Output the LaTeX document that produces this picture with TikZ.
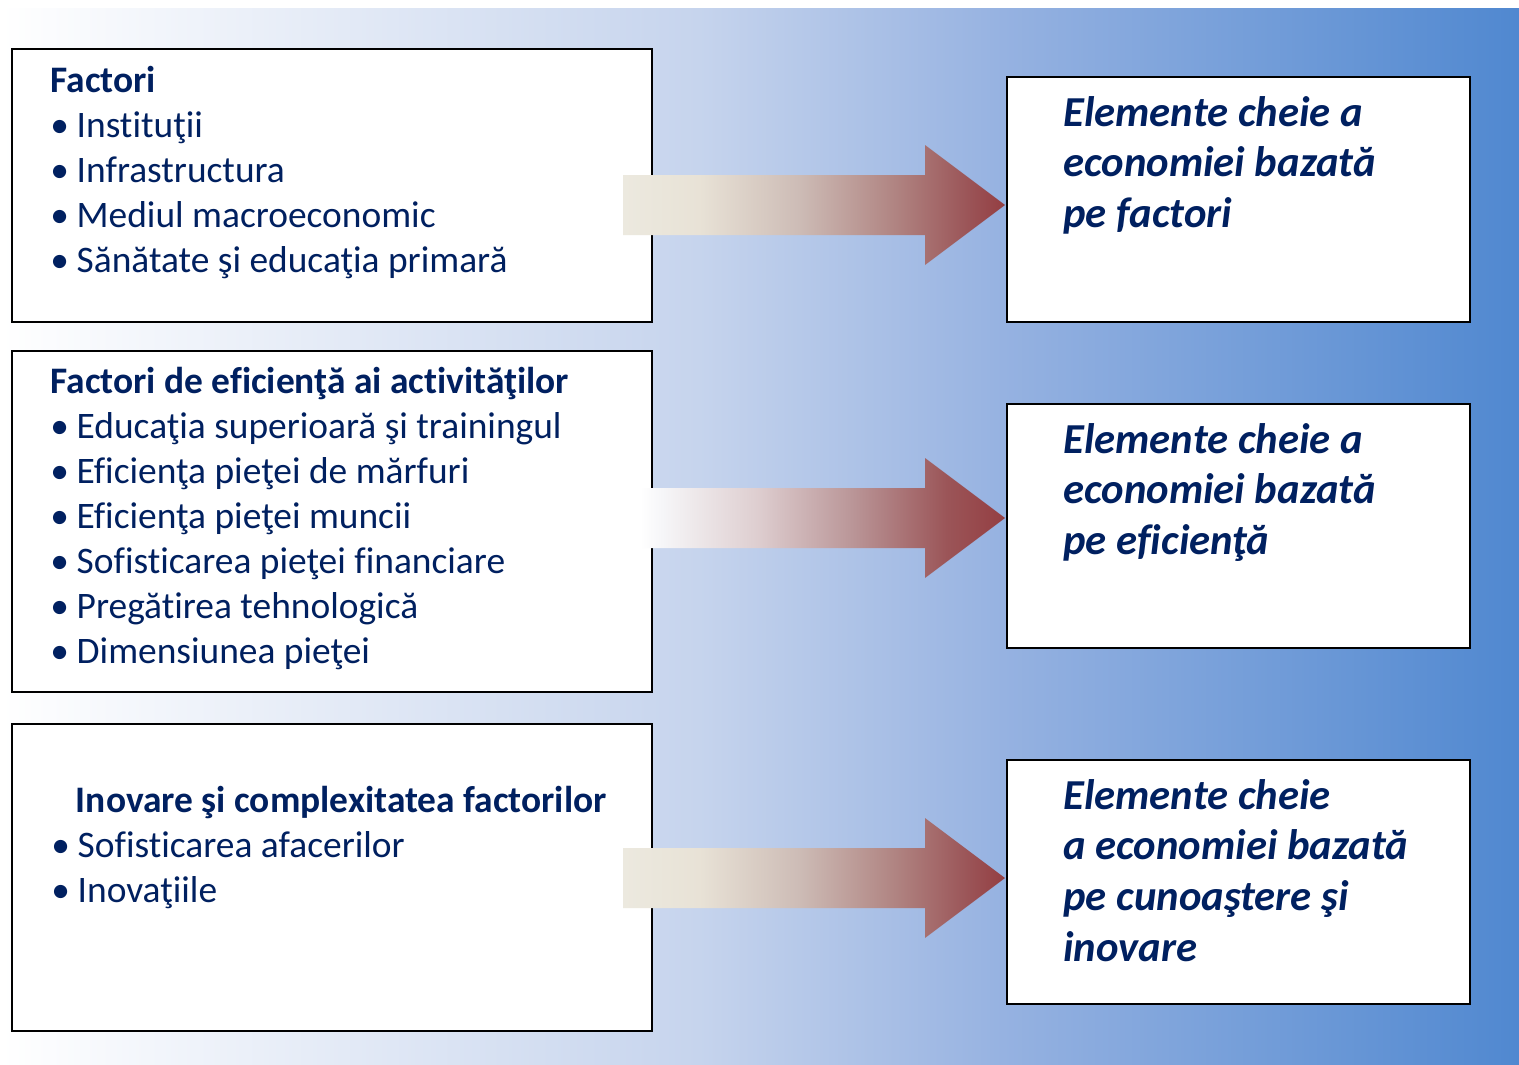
\documentclass[tikz,border=0pt]{standalone}
\usepackage{fontspec}
\setmainfont{Carlito}[Ligatures=NoCommon]
\usepackage{tikz}
\usetikzlibrary{calc}

\definecolor{navy}{RGB}{0,32,96}
\definecolor{bgmid}{RGB}{198,212,237}
\definecolor{bgblue}{RGB}{150,178,225}
\definecolor{bgright}{RGB}{80,136,208}
\definecolor{arrlight}{RGB}{236,233,223}
\definecolor{arrpale}{RGB}{232,226,214}
\definecolor{arrmid}{RGB}{205,188,182}
\definecolor{arrrose}{RGB}{175,130,128}
\definecolor{arrred}{RGB}{155,85,88}
\definecolor{arrdark}{RGB}{148,62,66}
\definecolor{arrwhite}{RGB}{246,246,248}
\definecolor{arrpink}{RGB}{222,206,208}
\definecolor{arrmauve}{RGB}{186,150,152}

\pgfdeclarehorizontalshading{bgfill}{100bp}{color(0bp)=(white); color(25bp)=(white); color(48bp)=(bgmid); color(58bp)=(bgblue); color(75bp)=(bgright); color(100bp)=(bgright)}
\pgfdeclarehorizontalshading{arrowfill}{100bp}{color(0bp)=(arrlight); color(25bp)=(arrlight); color(35bp)=(arrpale); color(48bp)=(arrmid); color(61bp)=(arrrose); color(70bp)=(arrred); color(75bp)=(arrdark); color(100bp)=(arrdark)}
\pgfdeclarehorizontalshading{arrowfade}{100bp}{color(0bp)=(white); color(25bp)=(white); color(28bp)=(arrwhite); color(41bp)=(arrpink); color(54bp)=(arrmauve); color(67bp)=(arrred); color(75bp)=(arrdark); color(100bp)=(arrdark)}

\newcommand\blt{\makebox[15pt][l]{•}}

\begin{document}
\begin{tikzpicture}[x=0.02cm,y=-0.02cm,
  box/.style={draw=black,line width=1.3pt,fill=white,inner sep=0pt,anchor=north west},
  txt/.style={text=navy,align=left,inner sep=0pt,anchor=north west,font=\fontsize{21.3}{25.6}\selectfont},
  keytxt/.style={txt,font=\fontsize{24.3}{29}\selectfont\bfseries\itshape}]
\useasboundingbox (0,0) rectangle (1519,1065);
\shade[shading=bgfill] (0,8) rectangle (1519,1065);

% left boxes
\node[box,minimum width=12.8cm,minimum height=5.46cm] (fac) at (11,48) {};
\node[box,minimum width=12.8cm,minimum height=6.82cm] (efi) at (11,350) {};
\node[box,minimum width=12.8cm,minimum height=6.14cm] (ino) at (11,723) {};

% right boxes
\node[box,minimum width=9.26cm,minimum height=4.9cm] (kfac) at (1006,76) {};
\node[box,minimum width=9.26cm,minimum height=4.88cm] (kefi) at (1006,403) {};
\node[box,minimum width=9.26cm,minimum height=4.88cm] (kino) at (1006,759) {};

% arrows
\coordinate (tip1) at (1005,205);
\coordinate (tip2) at (1005,518);
\coordinate (tip3) at (1005,878);
\shade[shading=arrowfill] (623,175) -- ++(302,0) -- ++(0,-30) -- (tip1) -- ++(-80,60) -- ++(0,-30) -- ++(-302,0) -- cycle;
\shade[shading=arrowfade] (640,488) -- ++(285,0) -- ++(0,-30) -- (tip2) -- ++(-80,60) -- ++(0,-30) -- ++(-285,0) -- cycle;
\shade[shading=arrowfill] (623,848) -- ++(302,0) -- ++(0,-30) -- (tip3) -- ++(-80,60) -- ++(0,-30) -- ++(-302,0) -- cycle;

% texts
\node[txt] (factxt) at (50,61) {\strut\textbf{Factori}\\
  \blt Instituţii\\
  \blt Infrastructura\\
  \blt Mediul macroeconomic\\
  \blt Sănătate şi educaţia primară};
\node[txt] (efitxt) at (50,362) {\strut\textbf{Factori de eficienţă ai activităţilor}\\
  \blt Educaţia superioară şi trainingul\\
  \blt Eficienţa pieţei de mărfuri\\
  \blt Eficienţa pieţei muncii\\
  \blt Sofisticarea pieţei financiare\\
  \blt Pregătirea tehnologică\\
  \blt Dimensiunea pieţei};
\node[txt] (inotxt) at (51,781) {\strut\hspace*{14pt}\textbf{Inovare şi complexitatea factorilor}\\
  \blt Sofisticarea afacerilor\\
  \blt Inovaţiile};

\node[keytxt] (kfactxt) at (1063,90) {\strut Elemente cheie a\\ economiei bazată\\ pe factori};
\node[keytxt] (kefitxt) at (1063,417) {\strut Elemente cheie a\\ economiei bazată\\ pe eficienţă};
\node[keytxt] (kinotxt) at (1063,773) {\strut Elemente cheie\\ a economiei bazată\\ pe cunoaştere şi\\ inovare};
\end{tikzpicture}
\end{document}
